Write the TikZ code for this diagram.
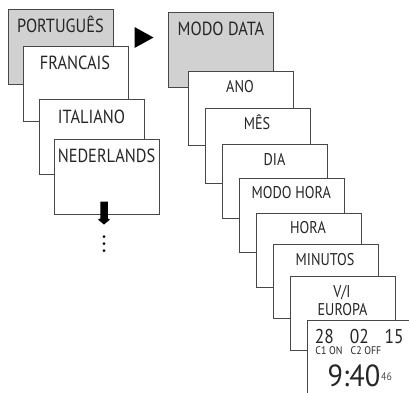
\documentclass[tikz,border=0pt]{standalone}
\usepackage{fontspec}
\setmainfont{PT Sans}
\newfontfamily\bigface[FakeStretch=0.86]{PT Sans}
\newfontfamily\smallface[FakeStretch=0.835]{PT Sans}
\newfontfamily\digitface[FakeStretch=0.87]{PT Sans}
\newfontfamily\clockface[FakeStretch=0.93]{PT Sans}
\newfontfamily\tinyface[FakeStretch=0.9]{PT Sans}
\newcommand{\fs}[1]{\fontsize{#1}{#1}\selectfont}
\tikzset{
  card/.style={draw=black!72,line width=0.9pt,fill=white,anchor=north west,inner sep=0pt,minimum width=105pt,minimum height=74.5pt},
  greycard/.style={card,fill=black!18},
  lbl/.style={inner sep=0pt,anchor=base,text=black!85},
  lblbig/.style={lbl,font=\bigface\fs{19}},
  lblsmall/.style={lbl,font=\smallface\fs{17}},
  lbldigit/.style={lbl,font=\digitface\fs{20}},
  lblclock/.style={lbl,font=\clockface\fs{30.5}},
  lbltiny/.style={lbl,font=\tinyface\fs{11}}
}
\begin{document}
\begin{tikzpicture}[x=1pt,y=-1pt]
\useasboundingbox (0,0) rectangle (409,392);
\clip (0,0) rectangle (409,392);
\fill[white] (0,0) rectangle (409,392);
% left stack
\node[greycard] (pt) at (8,9) {};
\node[lblbig] at (60.5,32) {PORTUGUÊS};
\node[card] (fr) at (23,46) {};
\node[lblbig] at (75,69.3) {FRANCAIS};
\node[card] (it) at (38.5,99) {};
\node[lblbig] at (91.5,123.3) {ITALIANO};
\node[card] (nl) at (54,139) {};
\node[lblbig] at (106.5,162.3) {NEDERLANDS};
% down arrow and dots
\fill[black] (100.3,201.7) -- (107.8,201.7) -- (107.8,218.5) -- (110,219.5) -- (104,224.5) -- (98,219.5) -- (100.3,218.5) -- cycle;
\foreach \yy in {236.5,243.5,250.5} \fill[black] (104,\yy) circle (1.5);
% right triangle
\fill[black] (134.5,27) -- (153.5,37.5) -- (134.5,48) -- cycle;
% right stack
\node[greycard] (md) at (168,12) {};
\node[lblbig] at (221,35) {MODO DATA};
\node[card] (ano) at (187.5,70.5) {};
\node[lblsmall] at (240,92.3) {ANO};
\node[card] (mes) at (205,108) {};
\node[lblsmall] at (257,129.3) {MÊS};
\node[card] (dia) at (221.7,143.5) {};
\node[lblsmall] at (274.5,165.3) {DIA};
\node[card] (mh) at (238.7,177.5) {};
\node[lblsmall] at (291.3,198.7) {MODO HORA};
\node[card] (hora) at (255.7,212.7) {};
\node[lblsmall] at (308,233.7) {HORA};
\node[card] (min) at (272.7,243.7) {};
\node[lblsmall] at (325,265.3) {MINUTOS};
\node[card] (vi) at (289.7,275.7) {};
\node[lblsmall] at (342,297) {V/I};
\node[lblsmall] at (342.5,315.3) {EUROPA};
\node[card,minimum width=120pt,minimum height=90pt] (lcd) at (306.7,320) {};
\node[lbldigit] at (324.3,343.7) {28};
\node[lbldigit] at (359.3,343.7) {02};
\node[lbldigit] at (394,343.7) {15};
\node[lbltiny] at (329,354.3) {C1 ON};
\node[lbltiny] at (366,354.3) {C2 OFF};
\node[lblclock] at (354,386.3) {9:40};
\node[lbltiny,text=black!70] at (386.5,380.3) {46};
\end{tikzpicture}
\end{document}
